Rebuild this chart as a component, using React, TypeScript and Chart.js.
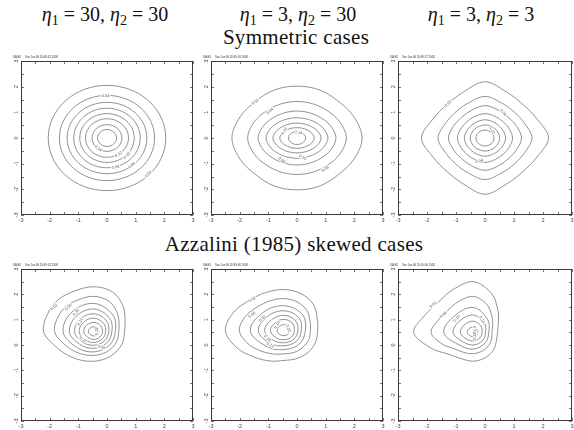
import React, { useEffect, useRef } from 'react';
import { Chart, registerables } from 'chart.js';

Chart.register(...registerables);

// ---------------- text ----------------
const ETA1 = [30, 3, 3];
const ETA2 = [30, 30, 3];
const ROW_TITLES = ['Symmetric cases', 'Azzalini (1985) skewed cases'];
const AXIS_LABELS = [-3, -2, -1, 0, 1, 2, 3];
const MINOR_TICKS = [-3, -2.5, -2, -1.5, -1, -0.5, 0, 0.5, 1, 1.5, 2, 2.5, 3];
const STAMP_USER = 'DAGS';
const STAMPS = [
  'Sun Jan 06 20:48:31 2008',
  'Sun Jan 06 20:49:10 2008',
  'Sun Jan 06 20:49:27 2008',
  'Sun Jan 06 20:49:24 2008',
  'Sun Jan 06 20:49:46 2008',
  'Sun Jan 06 20:50:06 2008',
];

// ---------------- contour data ----------------
// Symmetric panels: read radii (axis units) at 0, 22.5, 45, 67.5, 90 degrees of one quadrant
const SYM_A_CENTER: [number, number] = [0, 0];
const SYM_A_RADII = [
  [2.05, 2.05, 2.05, 2.05, 2.05],
  [1.66, 1.66, 1.66, 1.66, 1.66],
  [1.39, 1.39, 1.39, 1.39, 1.39],
  [1.16, 1.16, 1.16, 1.16, 1.16],
  [0.95, 0.95, 0.95, 0.95, 0.95],
  [0.75, 0.75, 0.75, 0.75, 0.75],
  [0.52, 0.52, 0.52, 0.52, 0.52],
  [0.33, 0.33, 0.33, 0.33, 0.33],
];
const SYM_B_CENTER: [number, number] = [0, 0];
const SYM_B_RADII = [
  [2.27, 2.15, 2.03, 2.03, 2.02],
  [1.72, 1.62, 1.5, 1.44, 1.42],
  [1.36, 1.26, 1.14, 1.07, 1.05],
  [1.08, 0.99, 0.88, 0.81, 0.79],
  [0.84, 0.76, 0.66, 0.6, 0.58],
  [0.6, 0.54, 0.46, 0.42, 0.4],
  [0.3, 0.29, 0.27, 0.26, 0.25],
];
const SYM_C_CENTER: [number, number] = [0, 0];
const SYM_C_RADII = [
  [2.19, 1.94, 1.85, 1.94, 2.19],
  [1.62, 1.48, 1.43, 1.48, 1.62],
  [1.26, 1.18, 1.14, 1.18, 1.26],
  [0.95, 0.91, 0.89, 0.91, 0.95],
  [0.71, 0.69, 0.68, 0.69, 0.71],
  [0.51, 0.5, 0.5, 0.5, 0.51],
  [0.31, 0.31, 0.31, 0.31, 0.31],
];

// Skewed panels: read radii from the mode, equally spaced angles starting at 0 deg (east), counter-clockwise
const SKEW_A_CENTER: [number, number] = [-0.45, 0.52];
const SKEW_A_RADII = [
  [1.06, 1.17, 1.43, 1.7, 1.78, 1.75, 1.78, 1.77, 1.76, 1.47, 1.3, 1.21, 1.16, 1.13, 1.1, 1.08],
  [0.86, 0.94, 1.12, 1.32, 1.4, 1.38, 1.4, 1.39, 1.38, 1.17, 1.04, 0.97, 0.93, 0.91, 0.89, 0.87],
  [0.74, 0.93, 1.12, 1.1, 1.08, 0.86, 0.79, 0.75],
  [0.62, 0.76, 0.9, 0.88, 0.86, 0.7, 0.65, 0.62],
  [0.51, 0.61, 0.71, 0.7, 0.68, 0.57, 0.53, 0.51],
  [0.4, 0.47, 0.54, 0.53, 0.52, 0.44, 0.42, 0.4],
  [0.29, 0.33, 0.37, 0.37, 0.36, 0.31, 0.3, 0.29],
  [0.16, 0.18, 0.2, 0.2, 0.2, 0.17, 0.16, 0.16],
];
const SKEW_B_CENTER: [number, number] = [-0.45, 0.57];
const SKEW_B_RADII = [
  [1.17, 1.25, 1.45, 1.57, 1.62, 1.63, 1.7, 1.9, 2.05, 1.78, 1.48, 1.3, 1.18, 1.19, 1.2, 1.19],
  [0.92, 0.98, 1.12, 1.22, 1.26, 1.27, 1.32, 1.46, 1.56, 1.36, 1.14, 1.0, 0.92, 0.93, 0.93, 0.93],
  [0.74, 0.9, 0.98, 1.02, 1.18, 0.88, 0.75, 0.75],
  [0.6, 0.72, 0.78, 0.8, 0.9, 0.7, 0.6, 0.6],
  [0.48, 0.56, 0.6, 0.61, 0.68, 0.54, 0.48, 0.48],
  [0.36, 0.41, 0.44, 0.44, 0.48, 0.4, 0.36, 0.36],
  [0.2, 0.22, 0.23, 0.23, 0.24, 0.22, 0.2, 0.2],
];
const SKEW_C_CENTER: [number, number] = [-0.4, 0.5];
const SKEW_C_RADII = [
  [0.83, 0.93, 1.2, 1.65, 2.0, 1.83, 1.7, 1.8, 2.06, 1.6, 1.22, 1.12, 1.14, 1.08, 0.98, 0.86],
  [0.64, 0.72, 0.9, 1.2, 1.42, 1.32, 1.24, 1.3, 1.46, 1.18, 0.92, 0.86, 0.84, 0.8, 0.74, 0.68],
  [0.53, 0.7, 0.98, 0.92, 1.02, 0.7, 0.66, 0.58],
  [0.42, 0.53, 0.68, 0.65, 0.7, 0.52, 0.5, 0.45],
  [0.3, 0.36, 0.44, 0.43, 0.45, 0.36, 0.34, 0.31],
  [0.16, 0.18, 0.21, 0.21, 0.21, 0.18, 0.17, 0.16],
];

// contour level labels: [text, x, y, angle(deg, counter-clockwise)]
type Lbl = [string, number, number, number];
const SYM_A_LABELS: Lbl[] = [
  ['0.02', 1.44, -1.4, 45], ['0.04', -0.05, 1.64, 0], ['0.06', 0.86, -1.06, 40],
  ['0.08', 0.3, -1.13, 12], ['0.10', 0.69, -0.67, 45], ['0.12', 0.4, -0.63, 30], ['0.14', -0.3, -0.4, -35],
];
const SYM_B_LABELS: Lbl[] = [
  ['0.02', -1.46, 1.42, 35], ['0.04', -0.95, 1.06, 40], ['0.12', -0.45, 0.28, 60],
  ['0.14', 0.05, 0.22, -10], ['0.08', -0.53, -0.86, -40], ['0.10', 0.2, -0.75, -25], ['0.06', 0.98, -1.2, 30],
];
const SYM_C_LABELS: Lbl[] = [
  ['0.02', -1.27, 1.35, 45], ['0.06', 0.63, 1.0, -50], ['0.10', 0.25, 0.31, -60],
  ['0.08', -0.2, -0.9, 15],
];
const SKEW_A_LABELS: Lbl[] = [
  ['0.02', -1.85, 1.5, 40], ['0.06', -1.35, 1.5, 45], ['0.10', -1.08, 1.3, 50],
  ['0.14', -0.94, 0.92, 60], ['0.22', -0.36, 0.55, 90], ['0.18', -0.83, 0.22, -30], ['0.08', -0.2, -0.08, -20],
];
const SKEW_B_LABELS: Lbl[] = [
  ['0.02', -1.57, 1.8, 30], ['0.06', -1.57, 1.2, 35], ['0.10', -1.22, 1.05, 45],
  ['0.14', -0.7, 0.8, 60], ['0.22', -0.3, 0.66, -70], ['0.18', -1.03, 0.27, -45], ['0.12', -0.93, 0.0, -30],
];
const SKEW_C_LABELS: Lbl[] = [
  ['0.02', -1.79, 1.6, 40], ['0.06', -1.44, 1.2, 40], ['0.10', -0.98, 1.05, 50],
  ['0.14', -0.1, 1.0, -60], ['0.18', -0.33, 0.6, -70], ['0.22', -0.35, 0.36, 90],
];

// ---------------- helpers ----------------
function mirrorQuadrant(q: number[]) {
  return [q[0], q[1], q[2], q[3], q[4], q[3], q[2], q[1], q[0], q[1], q[2], q[3], q[4], q[3], q[2], q[1]];
}
function ringPoints(c: [number, number], radii: number[]) {
  const n = radii.length;
  return radii.map((r, i) => {
    const a = (2 * Math.PI * i) / n;
    return { x: c[0] + r * Math.cos(a), y: c[1] + r * Math.sin(a) };
  });
}

type Panel = {
  left: number; top: number; width: number; height: number;
  rings: { x: number; y: number }[][];
  labels: Lbl[];
  stamp: string;
};

const PANELS: Panel[] = [
  { left: 21, top: 61, width: 172, height: 154, rings: SYM_A_RADII.map((q) => ringPoints(SYM_A_CENTER, mirrorQuadrant(q))), labels: SYM_A_LABELS, stamp: STAMPS[0] },
  { left: 211, top: 61, width: 172, height: 154, rings: SYM_B_RADII.map((q) => ringPoints(SYM_B_CENTER, mirrorQuadrant(q))), labels: SYM_B_LABELS, stamp: STAMPS[1] },
  { left: 398, top: 61, width: 174, height: 154, rings: SYM_C_RADII.map((q) => ringPoints(SYM_C_CENTER, mirrorQuadrant(q))), labels: SYM_C_LABELS, stamp: STAMPS[2] },
  { left: 21, top: 269, width: 172, height: 152, rings: SKEW_A_RADII.map((r) => ringPoints(SKEW_A_CENTER, r)), labels: SKEW_A_LABELS, stamp: STAMPS[3] },
  { left: 211, top: 269, width: 172, height: 152, rings: SKEW_B_RADII.map((r) => ringPoints(SKEW_B_CENTER, r)), labels: SKEW_B_LABELS, stamp: STAMPS[4] },
  { left: 398, top: 269, width: 174, height: 152, rings: SKEW_C_RADII.map((r) => ringPoints(SKEW_C_CENTER, r)), labels: SKEW_C_LABELS, stamp: STAMPS[5] },
];

const PAD_L = 16, PAD_T = 8, PAD_R = 2, PAD_B = 12;
const LINE_COLOR = '#6e6e6e';
const FRAME_COLOR = '#3a3a3a';
const TICK_FONT = '"Liberation Sans", Arial, sans-serif';

function ContourPanel({ panel }: { panel: Panel }) {
  const ref = useRef<HTMLCanvasElement | null>(null);
  useEffect(() => {
    if (!ref.current) return;
    const datasets = panel.rings.map((pts) => {
      const n = pts.length;
      const data = [pts[n - 1], ...pts, pts[0], pts[1]];
      const last = data.length - 1;
      return {
        data,
        showLine: true,
        borderColor: LINE_COLOR,
        borderWidth: 0.75,
        pointRadius: 0,
        pointHoverRadius: 0,
        tension: n <= 8 ? 0.38 : 0.35,
        fill: false,
        segment: {
          borderColor: (ctx: any) => (ctx.p0DataIndex === 0 || ctx.p1DataIndex === last ? 'rgba(0,0,0,0)' : undefined),
        },
      };
    });

    const decor = {
      id: 'decor',
      afterDatasetsDraw(chart: any) {
        const ctx = chart.ctx as CanvasRenderingContext2D;
        const xs = chart.scales.x, ys = chart.scales.y;
        ctx.save();
        ctx.font = `4px ${TICK_FONT}`;
        ctx.textAlign = 'center';
        ctx.textBaseline = 'middle';
        for (const [t, x, y, a] of panel.labels) {
          const px = xs.getPixelForValue(x), py = ys.getPixelForValue(y);
          ctx.save();
          ctx.translate(px, py);
          ctx.rotate((-a * Math.PI) / 180);
          const w = ctx.measureText(t).width + 1.5;
          ctx.fillStyle = '#fff';
          ctx.fillRect(-w / 2, -2.2, w, 4.4);
          ctx.fillStyle = '#555';
          ctx.fillText(t, 0, 0.2);
          ctx.restore();
        }
        ctx.restore();
      },
      afterDraw(chart: any) {
        const ctx = chart.ctx as CanvasRenderingContext2D;
        const { left, right, top, bottom } = chart.chartArea;
        const xs = chart.scales.x, ys = chart.scales.y;
        ctx.save();
        ctx.strokeStyle = FRAME_COLOR;
        ctx.lineWidth = 1;
        ctx.strokeRect(left + 0.5, top + 0.5, right - left - 1, bottom - top - 1);
        ctx.beginPath();
        for (const v of MINOR_TICKS) {
          const px = Math.round(xs.getPixelForValue(v)) + 0.5;
          ctx.moveTo(px, top); ctx.lineTo(px, top + 3);
          ctx.moveTo(px, bottom); ctx.lineTo(px, bottom - 3);
          const py = Math.round(ys.getPixelForValue(v)) + 0.5;
          ctx.moveTo(left, py); ctx.lineTo(left + 3, py);
          ctx.moveTo(right, py); ctx.lineTo(right - 3, py);
        }
        ctx.lineWidth = 0.7;
        ctx.stroke();
        // tick labels
        ctx.fillStyle = '#444';
        ctx.font = `5.5px ${TICK_FONT}`;
        ctx.textAlign = 'center';
        ctx.textBaseline = 'middle';
        for (const v of AXIS_LABELS) {
          ctx.fillText(String(v), xs.getPixelForValue(v), bottom + 5.5);
          ctx.save();
          ctx.translate(left - 4.5, ys.getPixelForValue(v));
          ctx.rotate(-Math.PI / 2);
          ctx.fillText(String(v), 0, 0);
          ctx.restore();
        }
        // stamp
        ctx.font = `2.8px ${TICK_FONT}`;
        ctx.textAlign = 'left';
        ctx.textBaseline = 'alphabetic';
        ctx.fillStyle = '#333';
        ctx.fillText(STAMP_USER, left - 8, top - 3);
        ctx.fillText(panel.stamp, left + 4, top - 3);
        ctx.restore();
      },
    };

    const chart = new Chart(ref.current, {
      type: 'scatter',
      data: { datasets: datasets as any },
      options: {
        responsive: false,
        animation: false,
        events: [],
        layout: { padding: { left: PAD_L, top: PAD_T, right: PAD_R, bottom: PAD_B } },
        plugins: { legend: { display: false }, tooltip: { enabled: false } },
        scales: {
          x: { type: 'linear', min: -3, max: 3, display: false },
          y: { type: 'linear', min: -3, max: 3, display: false },
        },
      },
      plugins: [decor],
    });
    return () => chart.destroy();
  }, [panel]);

  const w = panel.width + PAD_L + PAD_R;
  const h = panel.height + PAD_T + PAD_B;
  return (
    <canvas
      ref={ref}
      width={w}
      height={h}
      style={{ position: 'absolute', left: panel.left - PAD_L, top: panel.top - PAD_T, width: w, height: h }}
    />
  );
}

const SERIF = '"Liberation Serif", "DejaVu Serif", serif';
const subStyle: React.CSSProperties = { fontSize: '0.7em', verticalAlign: '-0.28em', lineHeight: 0, fontStyle: 'normal' };

function EtaTitle({ e1, e2, cx }: { e1: number; e2: number; cx: number }) {
  return (
    <div style={{ position: 'absolute', left: cx - 100, width: 200, top: 4, textAlign: 'center', fontFamily: SERIF, fontSize: 20, lineHeight: '20px', whiteSpace: 'nowrap', color: '#111' }}>
      <i>η</i><span style={subStyle}>1</span> = {e1}, <i>η</i><span style={subStyle}>2</span> = {e2}
    </div>
  );
}

const rowTitleStyle: React.CSSProperties = {
  position: 'absolute', textAlign: 'center', fontFamily: SERIF, fontSize: 21, lineHeight: '21px',
  letterSpacing: '0.3px', whiteSpace: 'nowrap', color: '#111',
};

export default function App() {
  const colCenters = [105, 298, 481];
  return (
    <div style={{ position: 'absolute', left: 0, top: 0, width: 574, height: 430, background: '#fff', overflow: 'hidden' }}>
      {colCenters.map((cx, i) => (
        <EtaTitle key={i} e1={ETA1[i]} e2={ETA2[i]} cx={cx} />
      ))}
      <div style={{ ...rowTitleStyle, left: 146, width: 300, top: 26.7 }}>
        {ROW_TITLES[0]}
      </div>
      <div style={{ ...rowTitleStyle, left: 94, width: 400, top: 234.1 }}>
        {ROW_TITLES[1]}
      </div>
      {PANELS.map((p, i) => (
        <ContourPanel key={i} panel={p} />
      ))}
    </div>
  );
}
